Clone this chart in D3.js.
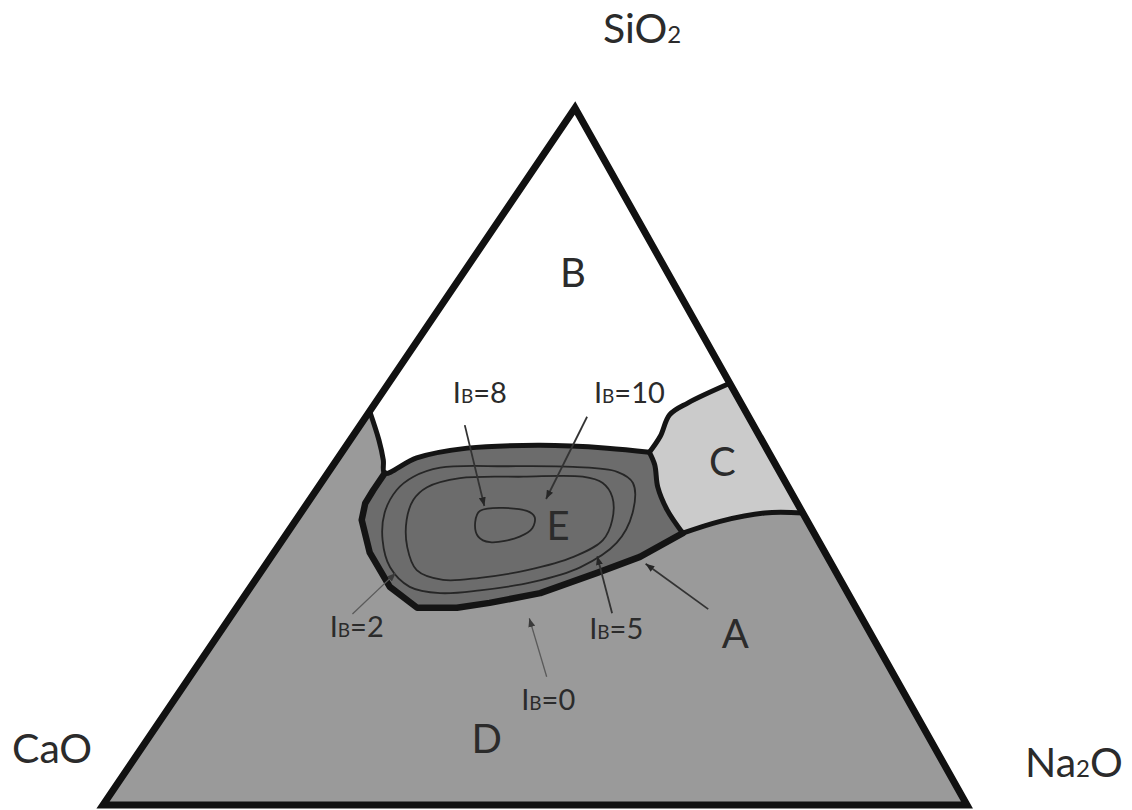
<!DOCTYPE html>
<html>
<head>
<meta charset="utf-8">
<script src="https://cdn.jsdelivr.net/npm/d3@7"></script>
<style>
  html, body { margin: 0; padding: 0; background: #fff; }
  svg { display: block; }
  text { font-family: Lato, "Open Sans", sans-serif; fill: #2b2b2b; }
</style>
</head>
<body>
<svg id="chart" width="1132" height="810"></svg>
<script>
// Ternary compositions, each point as [SiO2 %, Na2O %]; CaO = 100 - SiO2 - Na2O.

// Boundary B | D from the CaO–SiO2 edge down to field E
const boundaryBD = [[56.5, 0], [52.4, 3.3], [49.5, 5.4], [47.6, 6.6]];
// Upper edge of field E (shared with B)
const eTop = [[47.6, 6.6], [49.8, 9.1], [51.2, 14.2], [51.6, 22.4], [51.2, 30.4], [50.6, 35.6]];
// Upper edge of field C (shared with B), ending on the SiO2–Na2O edge
const cTop = [[50.6, 35.6], [52.9, 35.6], [56.0, 35.0], [57.7, 36.2], [60.5, 39.5]];
// Left edge of field C (shared with E)
const cLeft = [[50.6, 35.6], [48.8, 37.2], [45.6, 39.3], [42.3, 42.2], [39.0, 45.8]];
// Lower edge of field C (shared with D), ending on the SiO2–Na2O edge
const cBottom = [[39.0, 45.8], [40.7, 49.2], [41.9, 53.7], [41.9, 58.1]];
// Lower edge of field E (shared with D)
const eBottom = [[39.0, 45.8], [35.6, 42.7], [33.3, 39.0], [30.4, 34.0], [29.0, 28.9], [28.3, 25.5],
                 [28.3, 20.9], [31.3, 16.1], [36.2, 11.1], [40.9, 7.6], [43.3, 6.7], [45.2, 6.6], [47.6, 6.6]];

// Iso-lines of the basicity index inside field E
const contourIB2 = [[48.4, 12.6], [48.6, 20.2], [48.5, 27.9], [47.8, 33.4], [46.2, 36.1], [41.9, 38.4],
                    [37.6, 38.9], [34.1, 36.6], [32.0, 32.3], [30.8, 26.8], [30.4, 22.4], [31.3, 18.4],
                    [34.1, 14.6], [38.0, 11.6], [41.9, 9.7], [45.2, 9.3], [47.1, 10.2]];
const contourIB5 = [[45.6, 12.6], [46.9, 15.7], [47.1, 22.9], [47.1, 29.8], [46.2, 32.6], [44.2, 34.8],
                    [40.9, 36.6], [38.0, 37.1], [35.6, 35.0], [33.7, 30.7], [32.6, 25.8], [32.3, 21.7],
                    [33.7, 17.9], [37.0, 15.0], [40.9, 12.8], [43.8, 12.0]];
const contourIB8 = [[42.2, 20.6], [42.2, 26.0], [41.3, 27.4], [39.7, 28.0], [38.5, 27.2], [37.7, 24.2],
                    [38.5, 22.4], [40.6, 20.9]];

// Field letters: [text, SiO2, Na2O]
const fieldLabels = [["B", 74.3, 13.8], ["C", 47.2, 45.9], ["D", 7.5, 40.3], ["E", 38.0, 31.9], ["A", 22.5, 60.9]];

// Index labels: label point, arrow start and arrow tip, as [SiO2, Na2O]
const ibLabels = [
  {value: "8",  at: [57.7, 12.1], from: [54.5, 12.1], to: [42.9, 20.7], light: false},
  {value: "10", at: [57.7, 29.4], from: [55.7, 25.6], to: [43.9, 27.3], light: false},
  {value: "2",  at: [24.1, 16.2], from: [27.4, 13.9], to: [33.3, 15.7], light: true},
  {value: "5",  at: [23.8, 46.4], from: [27.5, 43.9], to: [35.7, 37.7], light: false},
  {value: "0",  at: [13.6, 44.1], from: [18.4, 41.3], to: [26.8, 34.7], light: true}
];
// Arrow for the boundary A
const arrowA = {from: [28.1, 54.7], to: [34.6, 43.9]};

// ---- ternary projection ----
const apex = [575, 108], baseLeft = 103, baseRight = 967, baseY = 805;
const skew = (apex[0] - baseLeft) / (baseRight - baseLeft);
const xScale = d3.scaleLinear().domain([0, 100]).range([baseLeft, baseRight]);
const yScale = d3.scaleLinear().domain([0, 100]).range([baseY, apex[1]]);
const project = ([si, na]) => [xScale(na + si * skew), yScale(si)];

const svg = d3.select("#chart");
const linePoly = d3.line().x(d => project(d)[0]).y(d => project(d)[1]);
const closedPoly = d3.line().x(d => project(d)[0]).y(d => project(d)[1]).curve(d3.curveLinearClosed);
const smoothLoop = d3.line().x(d => project(d)[0]).y(d => project(d)[1]).curve(d3.curveCatmullRomClosed.alpha(0.5));
const smoothLine = d3.line().x(d => project(d)[0]).y(d => project(d)[1]).curve(d3.curveCatmullRom.alpha(0.5));

const corners = [[100, 0], [0, 0], [0, 100]]; // SiO2, CaO, Na2O apexes

// Field D fills the whole triangle; the other fields are laid on top
svg.append("path").attr("d", closedPoly(corners)).attr("fill", "#9a9a9a");

const fieldB = [[100, 0], ...boundaryBD, ...eTop.slice(1), ...cTop.slice(1)];
const fieldC = [...cTop, ...cBottom.slice().reverse(), ...cLeft.slice(0, -1).reverse().slice(0, -1)];
const fieldE = [...eTop, ...cLeft.slice(1), ...eBottom.slice(1, -1)];

svg.append("path").attr("d", closedPoly(fieldB)).attr("fill", "#ffffff");
svg.append("path").attr("d", closedPoly(fieldC)).attr("fill", "#cbcbcb");
svg.append("path").attr("d", closedPoly(fieldE)).attr("fill", "#6c6c6c");

// Iso-basicity contours
[contourIB2, contourIB5, contourIB8].forEach(c => {
  svg.append("path").attr("d", smoothLoop(c))
    .attr("fill", "none").attr("stroke", "#262626").attr("stroke-width", 1.8);
});

// Field boundaries
const bnd = svg.append("g").attr("fill", "none").attr("stroke", "#141414")
  .attr("stroke-linejoin", "round").attr("stroke-linecap", "round");
bnd.append("path").attr("d", smoothLine([...boundaryBD, ...eTop.slice(1)])).attr("stroke-width", 5);
bnd.append("path").attr("d", smoothLine(cTop)).attr("stroke-width", 5);
bnd.append("path").attr("d", smoothLine(cLeft)).attr("stroke-width", 5);
bnd.append("path").attr("d", smoothLine(cBottom)).attr("stroke-width", 5);
bnd.append("path").attr("d", linePoly(eBottom)).attr("stroke-width", 6.5);

// Triangle outline
svg.append("path").attr("d", closedPoly(corners))
  .attr("fill", "none").attr("stroke", "#111").attr("stroke-width", 7).attr("stroke-linejoin", "miter");

// Arrow markers
const defs = svg.append("defs");
function marker(id, color) {
  defs.append("marker").attr("id", id).attr("viewBox", "0 0 10 8")
    .attr("refX", 10).attr("refY", 4).attr("markerWidth", 9).attr("markerHeight", 7)
    .attr("markerUnits", "userSpaceOnUse").attr("orient", "auto")
    .append("path").attr("d", "M0,0L10,4L0,8Z").attr("fill", color);
}
marker("arrowDark", "#262626");
marker("arrowLight", "#3a3a3a");

function arrow(from, to, light) {
  const a = project(from), b = project(to);
  svg.append("line").attr("x1", a[0]).attr("y1", a[1]).attr("x2", b[0]).attr("y2", b[1])
    .attr("stroke", light ? "#5a5a5a" : "#333").attr("stroke-width", light ? 1.3 : 1.8)
    .attr("marker-end", `url(#${light ? "arrowLight" : "arrowDark"})`);
}
ibLabels.forEach(d => arrow(d.from, d.to, d.light));
arrow(arrowA.from, arrowA.to, false);

// Index labels
ibLabels.forEach(d => {
  const p = project(d.at);
  const t = svg.append("text").attr("x", p[0]).attr("y", p[1]).attr("text-anchor", "middle")
    .attr("font-size", 29).attr("fill", "#333");
  t.append("tspan").text("I");
  t.append("tspan").attr("font-size", 19).text("B");
  t.append("tspan").text("=" + d.value);
});

// Field letters
fieldLabels.forEach(([txt, si, na]) => {
  const p = project([si, na]);
  svg.append("text").attr("x", p[0]).attr("y", p[1]).attr("text-anchor", "middle")
    .attr("font-size", 40).attr("fill", "#262626").text(txt);
});

// Component names at the apexes
function oxide(x, y, parts) {
  const t = svg.append("text").attr("x", x).attr("y", y).attr("font-size", 41).attr("fill", "#2b2b2b");
  parts.forEach(([s, sub]) => {
    const sp = t.append("tspan").text(s);
    if (sub) sp.attr("font-size", 24);
  });
}
const pTop = project([100, 0]), pLeft = project([0, 0]), pRight = project([0, 100]);
oxide(pTop[0] + 28, pTop[1] - 65, [["SiO"], ["2", true]]);
oxide(pLeft[0] - 91, pLeft[1] - 42, [["Ca"], ["O"]]);
oxide(pRight[0] + 58, pRight[1] - 28, [["Na"], ["2", true], ["O"]]);
</script>
</body>
</html>
